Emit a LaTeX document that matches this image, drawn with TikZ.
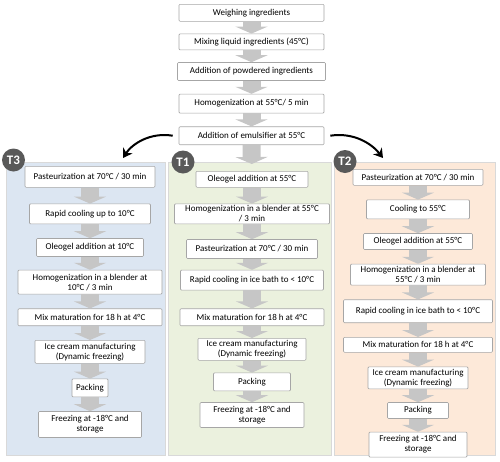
\documentclass[tikz,border=0pt]{standalone}
\usepackage{fontspec}
\setmainfont{Carlito}
\usetikzlibrary{positioning,arrows.meta}
\definecolor{boxline}{HTML}{A6A6A6}
\definecolor{flowgray}{HTML}{C6C6C6}
\definecolor{tthree}{HTML}{DCE6F2}
\definecolor{tone}{HTML}{EBF1DE}
\definecolor{ttwo}{HTML}{FDE9D9}
\definecolor{badgegray}{HTML}{595959}
\tikzset{
  stepbox/.style={draw=boxline, fill=white, rounded corners=1pt, line width=0.6pt,
    align=center, inner xsep=4pt, inner ysep=1pt, font=\fontsize{9}{10}\selectfont},
  sz/.style 2 args={minimum width=#1pt, minimum height=#2pt},
  flow/.style={draw=flowgray, line width=18pt, -{Triangle[width=32pt,length=7pt]}},
  panel/.style={draw=black!15, line width=0.6pt},
  badge/.style={circle, fill=badgegray, text=white, minimum size=23pt, inner sep=0pt,
    font=\bfseries\fontsize{13}{13}\selectfont},
  bendarrow/.style={line width=2pt, -{Stealth[length=9pt,width=11pt]}},
}

\begin{document}
\begin{tikzpicture}[x=1pt, y=-1pt]
\useasboundingbox (0,0) rectangle (500,461);

\node[panel, fill=tthree, minimum width=159pt, minimum height=293pt] (pan3) at (85.5,308.5) {};
\node[panel, fill=tone, minimum width=163pt, minimum height=293pt] (pan1) at (249.5,308.5) {};
\node[panel, fill=ttwo, minimum width=161pt, minimum height=293pt] (pan2) at (414.5,308.5) {};

\node[stepbox, sz={145}{17}, anchor=north] (weigh) at (251.5,4) {Weighing ingredients};
\node[stepbox, sz={145}{16}, below=12pt of weigh] (mixliq) {Mixing liquid ingredients (45°C)};
\node[stepbox, sz={148}{18}, below=12pt of mixliq] (powder) {Addition of powdered ingredients};
\node[stepbox, sz={145}{19}, below=13pt of powder] (homog) {Homogenization at 55°C/ 5 min};
\node[stepbox, sz={145}{18}, below=13pt of homog] (emuls) {Addition of emulsifier at 55°C};

\node[stepbox, sz={130}{21}, anchor=north] (t3a) at (90,166) {Pasteurization at 70°C / 30 min};
\node[stepbox, sz={121}{20}, below=16pt of t3a] (t3b) {Rapid cooling up to 10°C};
\node[stepbox, sz={107}{18}, below=14pt of t3b] (t3c) {Oleogel addition at 10°C};
\node[stepbox, sz={144}{24}, below=13pt of t3c] (t3d) {Homogenization in a blender at\\10°C / 3 min};
\node[stepbox, sz={144}{17}, below=14pt of t3d] (t3e) {Mix maturation for 18 h at 4°C};
\node[stepbox, sz={110}{23}, below=14pt of t3e] (t3f) {Ice cream manufacturing\\(Dynamic freezing)};
\node[stepbox, sz={36}{18}, below=15pt of t3f] (t3g) {Packing};
\node[stepbox, sz={103}{26}, below=14pt of t3g] (t3h) {Freezing at -18°C and\\storage};

\node[stepbox, sz={112}{16}, anchor=north] (t1a) at (252,171) {Oleogel addition at 55°C};
\node[stepbox, sz={155}{20}, below=16pt of t1a] (t1b) {Homogenization in a blender at 55°C\\/ 3 min};
\node[stepbox, sz={131}{19}, below=15pt of t1b] (t1c) {Pasteurization at 70°C / 30 min};
\node[stepbox, sz={143}{20}, below=11pt of t1c] (t1d) {Rapid cooling in ice bath to < 10°C};
\node[stepbox, sz={144}{17}, below=18pt of t1d] (t1e) {Mix maturation for 18 h at 4°C};
\node[stepbox, sz={108}{22}, below=12pt of t1e] (t1f) {Ice cream manufacturing\\(Dynamic freezing)};
\node[stepbox, sz={77}{18}, below=12pt of t1f] (t1g) {Packing};
\node[stepbox, sz={104}{25}, below=11pt of t1g] (t1h) {Freezing at -18°C and\\storage};

\node[stepbox, sz={130}{16}, anchor=north] (t2a) at (418,169) {Pasteurization at 70°C / 30 min};
\node[stepbox, sz={103}{19}, below=14pt of t2a] (t2b) {Cooling to 55°C};
\node[stepbox, sz={109}{16}, below=14pt of t2b] (t2c) {Oleogel addition at 55°C};
\node[stepbox, sz={135}{21}, below=14pt of t2c] (t2d) {Homogenization in a blender at\\55°C / 3 min};
\node[stepbox, sz={149}{23}, below=14pt of t2d] (t2e) {Rapid cooling in ice bath to < 10°C};
\node[stepbox, sz={149}{15}, below=14pt of t2e] (t2f) {Mix maturation for 18 h at 4°C};
\node[stepbox, sz={100}{22}, below=14pt of t2f] (t2g) {Ice cream manufacturing\\(Dynamic freezing)};
\node[stepbox, sz={61}{16}, below=13pt of t2g] (t2h) {Packing};
\node[stepbox, sz={98}{25}, below=13pt of t2h] (t2i) {Freezing at -18°C and\\storage};

\node[badge] (b3) at (13.5,160) {T3};
\node[badge] (b1) at (183,162) {T1};
\node[badge] (b2) at (345,161.5) {T2};

\path (weigh) edge[flow] (mixliq)
  (mixliq) edge[flow] (powder)
  (powder) edge[flow] (homog)
  (homog) edge[flow] (emuls)
  (emuls) edge[flow, shorten >=7pt] (t1a);

\path (t3a) edge[flow] (t3b)
  (t3b) edge[flow] (t3c)
  (t3c) edge[flow] (t3d)
  (t3d) edge[flow] (t3e)
  (t3e) edge[flow] (t3f)
  (t3f) edge[flow] (t3g)
  (t3g) edge[flow] (t3h);

\path (t1a) edge[flow] (t1b)
  (t1b) edge[flow] (t1c)
  (t1c) edge[flow] (t1d)
  (t1d) edge[flow] (t1e)
  (t1e) edge[flow] (t1f)
  (t1f) edge[flow] (t1g)
  (t1g) edge[flow] (t1h);

\path (t2a) edge[flow] (t2b)
  (t2b) edge[flow] (t2c)
  (t2c) edge[flow] (t2d)
  (t2d) edge[flow] (t2e)
  (t2e) edge[flow] (t2f)
  (t2f) edge[flow] (t2g)
  (t2g) edge[flow] (t2h)
  (t2h) edge[flow] (t2i);

\coordinate (lt) at (123,158);
\coordinate (rt) at (383,158);
\draw[bendarrow] ([xshift=-6pt]emuls.west) .. controls (150,132) and (132,144) .. (lt);
\draw[bendarrow] ([xshift=6pt]emuls.east) .. controls (354,132) and (372,144) .. (rt);
\end{tikzpicture}
\end{document}
